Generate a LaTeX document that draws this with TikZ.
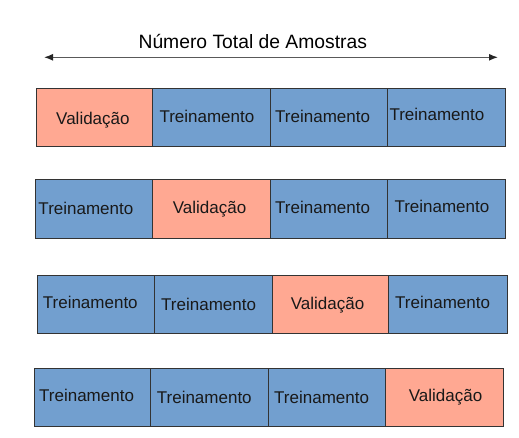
\documentclass[tikz,border=0pt]{standalone}
\usepackage{fontspec}
\setmainfont{Liberation Sans}
\usetikzlibrary{arrows.meta}
\definecolor{valcol}{HTML}{FFA892}
\definecolor{trncol}{HTML}{729FCF}
\definecolor{edgecol}{HTML}{333333}
\tikzset{
  cellbox/.style={draw=edgecol, line width=0.9bp, inner sep=0pt},
  valbox/.style={cellbox, fill=valcol},
  trnbox/.style={cellbox, fill=trncol},
  celltext/.style={anchor=base west, inner sep=0pt, font=\fontsize{17bp}{20bp}\selectfont, text=black!90},
}
\newcommand{\mkbox}[6]{%
  \path[#6] (#2,#4) rectangle (#3,#5);
  \node[inner sep=0pt, minimum width={(#3-#2)*1bp}, minimum height={(#5-#4)*1bp}] (#1) at ({(#2+#3)/2},{(#4+#5)/2}) {};
}
\begin{document}
\begin{tikzpicture}[x=1bp,y=-1bp]
\useasboundingbox (0,0) rectangle (519,438);
\fill[white] (0,0) rectangle (519,438);

% title and arrow
\node[anchor=base, inner sep=0pt, font=\fontsize{19.3bp}{23bp}\selectfont] (title) at (252.8,48.3) {Número Total de Amostras};
\coordinate (aL) at (44,57.3);
\coordinate (aR) at (498,57.3);
\draw[draw=black!65, line width=1.3bp, {Latex[length=9bp,width=7bp,black!85]}-{Latex[length=9bp,width=7bp,black!85]}] (aL) -- (aR);

% row 1
\mkbox{r1a}{36}{152.7}{88.7}{146.7}{valbox}
\mkbox{r1b}{152.7}{270.3}{88.7}{146.7}{trnbox}
\mkbox{r1c}{270.3}{387}{88.7}{146.7}{trnbox}
\mkbox{r1d}{387}{505.5}{88.7}{146.7}{trnbox}
\node[celltext] (t1a) at (56,125) {Validação};
\node[celltext] (t1b) at (159.3,122.7) {Treinamento};
\node[celltext] (t1c) at (275,122.7) {Treinamento};
\node[celltext] (t1d) at (389.3,121) {Treinamento};

% row 2
\mkbox{r2a}{35.7}{152.3}{179.3}{238}{trnbox}
\mkbox{r2b}{152.3}{270}{179.3}{238}{valbox}
\mkbox{r2c}{270}{387.3}{179.3}{238}{trnbox}
\mkbox{r2d}{387.3}{505}{179.3}{238}{trnbox}
\node[celltext] (t2a) at (38.3,215) {Treinamento};
\node[celltext] (t2b) at (172.7,213.7) {Validação};
\node[celltext] (t2c) at (275,214) {Treinamento};
\node[celltext] (t2d) at (394.3,212.3) {Treinamento};

% row 3
\mkbox{r3a}{37.3}{154.3}{275.3}{333.7}{trnbox}
\mkbox{r3b}{154.3}{272.3}{275.3}{333.7}{trnbox}
\mkbox{r3c}{272.3}{388.7}{275.3}{333.7}{valbox}
\mkbox{r3d}{388.7}{507}{275.3}{333.7}{trnbox}
\node[celltext] (t3a) at (42.7,308.3) {Treinamento};
\node[celltext] (t3b) at (161,310) {Treinamento};
\node[celltext] (t3c) at (290.7,309) {Validação};
\node[celltext] (t3d) at (395,308.3) {Treinamento};

% row 4
\mkbox{r4a}{34}{150.7}{368.3}{426.7}{trnbox}
\mkbox{r4b}{150.7}{268.7}{368.3}{426.7}{trnbox}
\mkbox{r4c}{268.7}{385.7}{368.3}{426.7}{trnbox}
\mkbox{r4d}{385.7}{503.3}{368.3}{426.7}{valbox}
\node[celltext] (t4a) at (39,401.7) {Treinamento};
\node[celltext] (t4b) at (156.7,403.3) {Treinamento};
\node[celltext] (t4c) at (274,403.3) {Treinamento};
\node[celltext] (t4d) at (408.7,401.7) {Validação};
\end{tikzpicture}
\end{document}
